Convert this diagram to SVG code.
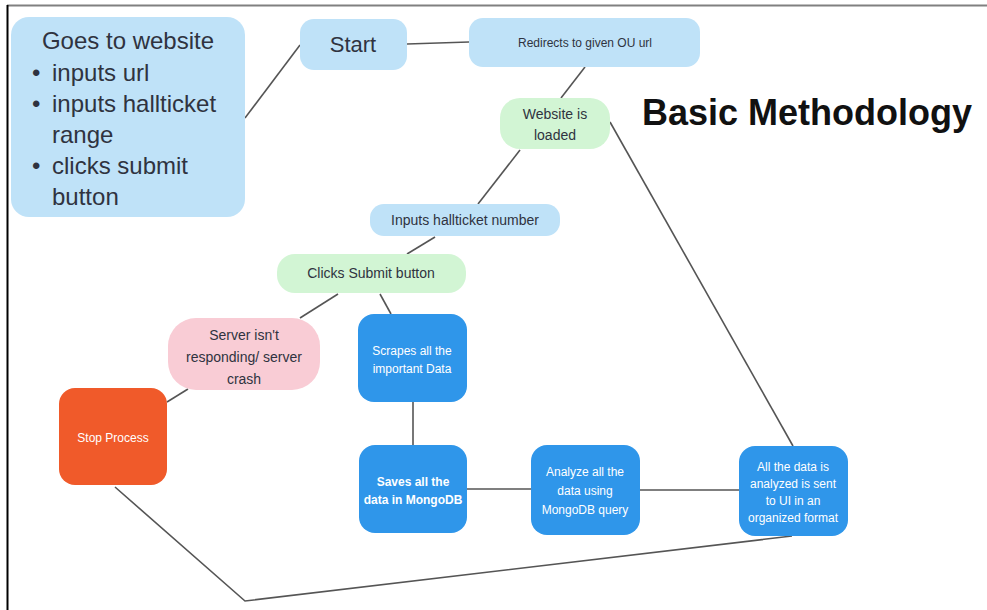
<svg xmlns="http://www.w3.org/2000/svg" width="987" height="610" viewBox="0 0 987 610">
<style>
.t{font-family:"Liberation Sans",Arial,sans-serif;fill:#2f3340}
.w{font-family:"Liberation Sans",Arial,sans-serif;fill:#ffffff}
.lb{fill:#bfe2f8}
.gr{fill:#d2f5d4}
.pk{fill:#f9ccd5}
.bl{fill:#2f96ea}
.or{fill:#f05a2a}
.c line,.c polyline{stroke:#555;stroke-width:1.6;fill:none}
</style>
<rect x="0" y="0" width="987" height="610" fill="#ffffff"/>
<line x1="7" y1="5.5" x2="987" y2="5.5" stroke="#808080" stroke-width="2"/>
<line x1="7.5" y1="5" x2="7.5" y2="610" stroke="#000" stroke-width="2"/>
<g class="c" id="connectors">
<line x1="245" y1="118" x2="300" y2="45"/>
<line x1="407" y1="44" x2="469" y2="42"/>
<line x1="585" y1="67" x2="561" y2="98"/>
<line x1="520" y1="150" x2="478" y2="204"/>
<line x1="610" y1="122" x2="793" y2="446"/>
<line x1="435" y1="237" x2="407" y2="254"/>
<line x1="338" y1="294" x2="300" y2="318"/>
<line x1="380" y1="294" x2="391" y2="314"/>
<line x1="188" y1="389" x2="167" y2="402"/>
<line x1="413" y1="402" x2="413" y2="445"/>
<line x1="467" y1="489" x2="531" y2="489"/>
<line x1="640" y1="490" x2="739" y2="490"/>
<polyline points="115,487 245,601 792,536"/>
</g>
<g id="n-goes">
<rect class="lb" x="11" y="17" width="234" height="200" rx="18"/>
<text class="t" font-size="24" x="128" y="49" text-anchor="middle">Goes to website</text>
<text class="t" font-size="24" x="32" y="81">•</text>
<text class="t" font-size="24" x="52" y="81">inputs url</text>
<text class="t" font-size="24" x="32" y="112">•</text>
<text class="t" font-size="24" x="52" y="112">inputs hallticket</text>
<text class="t" font-size="24" x="52" y="143">range</text>
<text class="t" font-size="24" x="32" y="174">•</text>
<text class="t" font-size="24" x="52" y="174">clicks submit</text>
<text class="t" font-size="24" x="52" y="205">button</text>
</g>
<g id="n-start">
<rect class="lb" x="300" y="19" width="107" height="51" rx="14"/>
<text class="t" font-size="22" x="353" y="52" text-anchor="middle">Start</text>
</g>
<g id="n-redirect">
<rect class="lb" x="469" y="18" width="231" height="49" rx="14"/>
<text class="t" font-size="12" x="585" y="47" text-anchor="middle">Redirects to given OU url</text>
</g>
<g id="n-loaded">
<rect class="gr" x="500" y="98" width="110" height="51" rx="20"/>
<text class="t" font-size="14" x="555" y="119" text-anchor="middle">Website is</text>
<text class="t" font-size="14" x="555" y="140" text-anchor="middle">loaded</text>
</g>
<text x="642" y="125" font-family="'Liberation Sans',Arial,sans-serif" font-weight="bold" font-size="36" fill="#111">Basic Methodology</text>
<g id="n-inputs">
<rect class="lb" x="370" y="204" width="190" height="32" rx="14"/>
<text class="t" font-size="14" x="465" y="225" text-anchor="middle">Inputs hallticket number</text>
</g>
<g id="n-clicks">
<rect class="gr" x="277" y="254" width="189" height="39" rx="18"/>
<text class="t" font-size="14" x="371" y="278" text-anchor="middle">Clicks Submit button</text>
</g>
<g id="n-server">
<rect class="pk" x="168" y="318" width="152" height="72" rx="28"/>
<text class="t" font-size="14" x="244" y="340" text-anchor="middle">Server isn't</text>
<text class="t" font-size="14" x="244" y="362" text-anchor="middle">responding/ server</text>
<text class="t" font-size="14" x="244" y="384" text-anchor="middle">crash</text>
</g>
<g id="n-scrapes">
<rect class="bl" x="358" y="314" width="109" height="88" rx="16"/>
<text class="w" font-size="12" x="412" y="355" text-anchor="middle">Scrapes all the</text>
<text class="w" font-size="12" x="412" y="373" text-anchor="middle">important Data</text>
</g>
<g id="n-stop">
<rect class="or" x="59" y="388" width="108" height="97" rx="16"/>
<text class="w" font-size="12" x="113" y="442" text-anchor="middle">Stop Process</text>
</g>
<g id="n-saves">
<rect class="bl" x="359" y="445" width="108" height="88" rx="16"/>
<text class="w" font-size="12" font-weight="bold" x="413" y="486" text-anchor="middle">Saves all the</text>
<text class="w" font-size="12" font-weight="bold" x="413" y="504" text-anchor="middle">data in MongoDB</text>
</g>
<g id="n-analyze">
<rect class="bl" x="531" y="445" width="109" height="90" rx="16"/>
<text class="w" font-size="12" x="585" y="476" text-anchor="middle">Analyze all the</text>
<text class="w" font-size="12" x="585" y="495" text-anchor="middle">data using</text>
<text class="w" font-size="12" x="585" y="514" text-anchor="middle">MongoDB query</text>
</g>
<g id="n-sent">
<rect class="bl" x="739" y="446" width="109" height="90" rx="16"/>
<text class="w" font-size="12" x="793" y="471" text-anchor="middle">All the data is</text>
<text class="w" font-size="12" x="793" y="488" text-anchor="middle">analyzed is sent</text>
<text class="w" font-size="12" x="793" y="505" text-anchor="middle">to UI in an</text>
<text class="w" font-size="12" x="793" y="522" text-anchor="middle">organized format</text>
</g>
</svg>
